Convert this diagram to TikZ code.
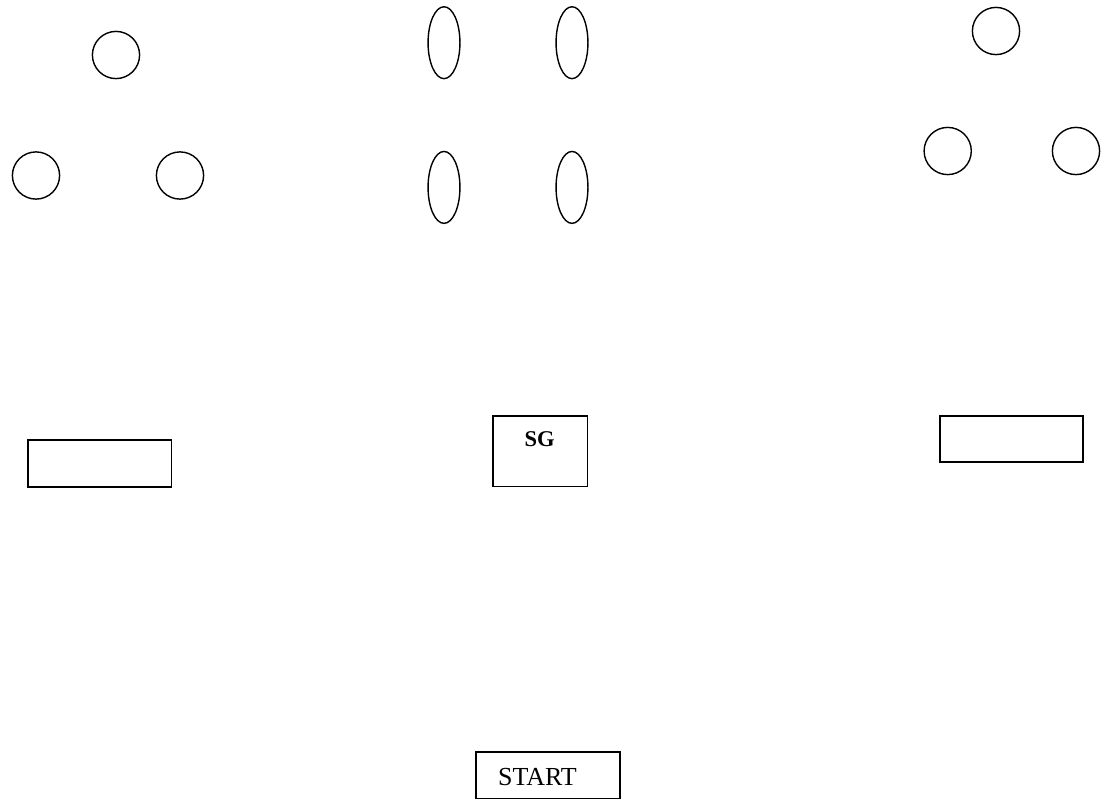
\documentclass[tikz,border=0pt]{standalone}
\usepackage{fontspec}
\setmainfont{Liberation Serif}
\usetikzlibrary{shapes.geometric}
\begin{document}
\begin{tikzpicture}[x=1pt,y=-1pt,
  ring/.style={draw,circle,line width=1.4pt,minimum size=47.2pt,inner sep=0pt},
  oval/.style={draw,ellipse,line width=1.4pt,minimum width=31.9pt,minimum height=71.9pt,inner sep=0pt},
  box/.style={draw,rectangle,line width=1.8pt,inner sep=0pt},
  lbl/.style={anchor=base,inner sep=0pt}]
\useasboundingbox (0,0) rectangle (1107,800);
% left group of circles
\node[ring] (l1) at (116,55) {};
\node[ring] (l2) at (36,175.5) {};
\node[ring] (l3) at (180,175.5) {};
% middle ellipses
\node[oval] (m1) at (444,42.7) {};
\node[oval] (m2) at (572,42.7) {};
\node[oval] (m3) at (444,187.4) {};
\node[oval] (m4) at (572,187.4) {};
% right group of circles
\node[ring] (r1) at (996,31) {};
\node[ring] (r2) at (947.7,151) {};
\node[ring] (r3) at (1076,151) {};
% boxes
\node[box,minimum width=143.2pt,minimum height=46.9pt] (lb) at (99.8,463.4) {};
\node[box,minimum width=94.8pt,minimum height=70.8pt] (sg) at (540,451) {};
\node[lbl,font=\fontsize{22.5}{24}\selectfont\bfseries] (sgt) at (539.5,446.7) {SG};
\node[box,minimum width=142.9pt,minimum height=45.9pt] (rb) at (1011.7,438.8) {};
\node[box,minimum width=143.9pt,minimum height=46.8pt] (st) at (547.8,775) {};
\node[lbl,font=\fontsize{26}{28}\selectfont] (stt) at (537.5,785) {START};
\end{tikzpicture}
\end{document}
